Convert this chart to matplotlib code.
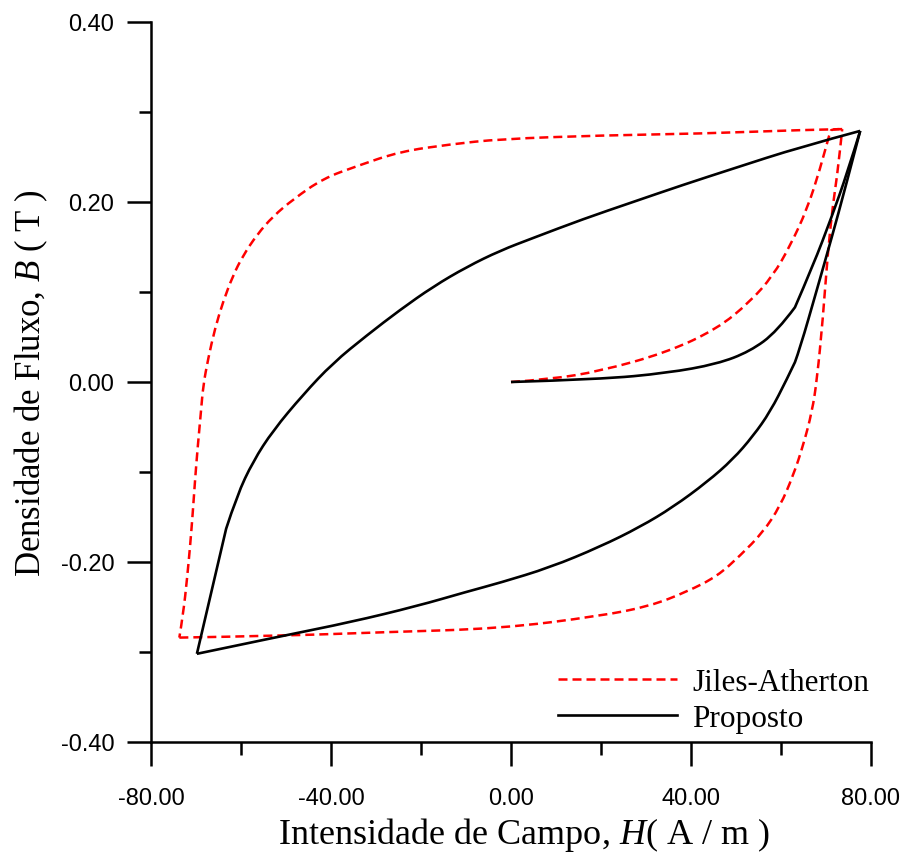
import matplotlib
matplotlib.use("Agg")
import matplotlib.pyplot as plt
from matplotlib.ticker import MultipleLocator, FormatStrFormatter
from matplotlib.path import Path
from matplotlib.patches import PathPatch
from matplotlib.lines import Line2D

# ---------------- data ----------------
# Jiles-Atherton (red dashed)
ja_init_H = [0.0, 8.6, 19.8, 34.7, 45.8, 53.1, 58.2, 62.0, 65.8, 68.7, 70.9, 71.3, 73.6]
ja_init_B = [0.0, 0.003, 0.012, 0.033, 0.059, 0.089, 0.118, 0.151, 0.192, 0.237, 0.278, 0.281, 0.281]

ja_desc_H = [73.6, 64.2, 42.4, 20.0, -2.4, -13.6, -24.7, -34.2, -41.8, -48.4, -52.9, -56.4,
             -59.6, -61.8, -64.0, -65.8, -67.3, -68.4, -68.9, -69.6, -70.2, -70.7, -71.3,
             -72.0, -72.8, -73.7]
ja_desc_B = [0.281, 0.280, 0.276, 0.274, 0.270, 0.264, 0.256, 0.240, 0.226, 0.203, 0.184, 0.164,
             0.140, 0.118, 0.089, 0.059, 0.026, -0.004, -0.033, -0.071, -0.108, -0.144, -0.182,
             -0.219, -0.256, -0.284]

ja_asc_H = [-73.7, -50.7, -28.4, -2.4, 19.8, 30.9, 39.1, 45.8, 50.9, 56.0, 59.8, 62.7, 64.9,
            66.9, 68.0, 69.3, 70.4, 71.6, 72.7, 73.6]
ja_asc_B = [-0.284, -0.282, -0.278, -0.274, -0.260, -0.249, -0.233, -0.216, -0.193, -0.167,
            -0.138, -0.104, -0.071, -0.033, 0.003, 0.070, 0.144, 0.200, 0.237, 0.281]

# Proposto (black solid)
pr_init_H = [0.0, 19.8, 34.7, 45.8, 53.1, 59.1, 63.1, 67.1, 71.3, 74.7, 77.6]
pr_init_B = [0.0, 0.003, 0.010, 0.020, 0.034, 0.056, 0.083, 0.129, 0.184, 0.232, 0.279]

pr_desc_H = [77.6, 64.2, 49.3, 38.2, 27.1, 16.0, 4.9, -2.4, -9.8, -17.3, -24.7, -32.0, -39.6,
             -46.2, -52.9, -57.3, -60.9, -63.3, -69.8]
pr_desc_B = [0.279, 0.261, 0.237, 0.219, 0.200, 0.181, 0.160, 0.146, 0.128, 0.106, 0.080, 0.052,
             0.021, -0.014, -0.054, -0.088, -0.126, -0.163, -0.302]

pr_asc_H = [-69.8, -50.7, -35.8, -20.9, -9.8, -2.4, 8.7, 19.8, 28.7, 36.0, 43.6, 49.3, 53.8,
            57.6, 61.3, 63.1, 64.2, 68.0, 71.3, 74.2, 77.6]
pr_asc_B = [-0.302, -0.282, -0.267, -0.249, -0.233, -0.223, -0.206, -0.183, -0.161, -0.139,
            -0.111, -0.086, -0.060, -0.033, 0.003, 0.022, 0.037, 0.103, 0.161, 0.214, 0.279]

x_ticks = [-80, -40, 0, 40, 80]
y_ticks = [-0.40, -0.20, 0.00, 0.20, 0.40]

# ---------------- helpers ----------------
def smooth_curve(ax, H, B, corners=(), **kw):
    """Draw a smooth quadratic-Bezier path through the data points (data coords)."""
    pts = list(zip(H, B))
    cut = sorted(set([0] + list(corners) + [len(pts) - 1]))
    verts, codes = [pts[0]], [Path.MOVETO]
    for a, b in zip(cut[:-1], cut[1:]):
        seg = pts[a:b + 1]
        if len(seg) == 2:
            verts.append(seg[1]); codes.append(Path.LINETO)
            continue
        for i in range(1, len(seg) - 1):
            ctrl = seg[i]
            if i < len(seg) - 2:
                end = ((seg[i][0] + seg[i + 1][0]) / 2, (seg[i][1] + seg[i + 1][1]) / 2)
            else:
                end = seg[-1]
            verts += [ctrl, end]
            codes += [Path.CURVE3, Path.CURVE3]
    patch = PathPatch(Path(verts, codes), facecolor='none', joinstyle='round',
                      capstyle='butt', **kw)
    ax.add_patch(patch)
    return patch

# ---------------- figure ----------------
plt.rcParams['mathtext.fontset'] = 'custom'
plt.rcParams['mathtext.rm'] = 'Liberation Serif'
plt.rcParams['mathtext.it'] = 'Liberation Serif:italic'

fig = plt.figure(figsize=(9.01, 8.54), dpi=100)
ax = fig.add_axes([151/901, 111/854, 720/901, 720/854])

red_kw = dict(edgecolor='#ff0000', lw=1.8, linestyle=(0, (3.6, 2.0)))
blk_kw = dict(edgecolor='black', lw=1.9)

smooth_curve(ax, ja_init_H, ja_init_B, **red_kw)
smooth_curve(ax, ja_desc_H, ja_desc_B, **red_kw)
smooth_curve(ax, ja_asc_H, ja_asc_B, **red_kw)

smooth_curve(ax, pr_init_H, pr_init_B, corners=(6,), **blk_kw)
smooth_curve(ax, pr_desc_H, pr_desc_B, corners=(17,), **blk_kw)
smooth_curve(ax, pr_asc_H, pr_asc_B, corners=(15,), **blk_kw)

ax.set_xlim(-80, 80)
ax.set_ylim(-0.40, 0.40)
ax.set_xticks(x_ticks)
ax.set_yticks(y_ticks)
ax.xaxis.set_minor_locator(MultipleLocator(20))
ax.yaxis.set_minor_locator(MultipleLocator(0.1))
ax.xaxis.set_major_formatter(FormatStrFormatter('%.2f'))
ax.yaxis.set_major_formatter(FormatStrFormatter('%.2f'))

for s in ['top', 'right']:
    ax.spines[s].set_visible(False)
for s in ['left', 'bottom']:
    ax.spines[s].set_linewidth(1.8)

ax.tick_params(which='major', direction='out', length=17.5, width=1.8, labelsize=17)
ax.tick_params(axis='x', which='major', pad=15)
ax.tick_params(axis='y', which='major', pad=9)
ax.tick_params(which='minor', direction='out', length=9, width=1.8)
for lab in ax.get_xticklabels() + ax.get_yticklabels():
    lab.set_fontfamily('Liberation Sans')

ax.set_xlabel(r'Intensidade de Campo, $H$( A / m )', fontfamily='Liberation Serif', fontsize=26)
ax.set_ylabel(r'Densidade de Fluxo, $B$ ( T )', fontfamily='Liberation Serif', fontsize=25)
ax.xaxis.set_label_coords(0.518, -0.101)
ax.yaxis.set_label_coords(-0.14, 0.5)

handles = [Line2D([], [], color='#ff0000', lw=1.8, dashes=(3.6, 2.0)),
           Line2D([], [], color='black', lw=1.9)]
leg = ax.legend(handles, ['Jiles-Atherton', 'Proposto'], loc='lower right',
                bbox_to_anchor=(1.0, 0.01), frameon=False,
                prop={'family': 'Liberation Serif', 'size': 22.5},
                handlelength=3.8, handletextpad=0.5, labelspacing=0.22,
                borderaxespad=0.05, borderpad=0.0)

fig.savefig('out.png', dpi=100)
